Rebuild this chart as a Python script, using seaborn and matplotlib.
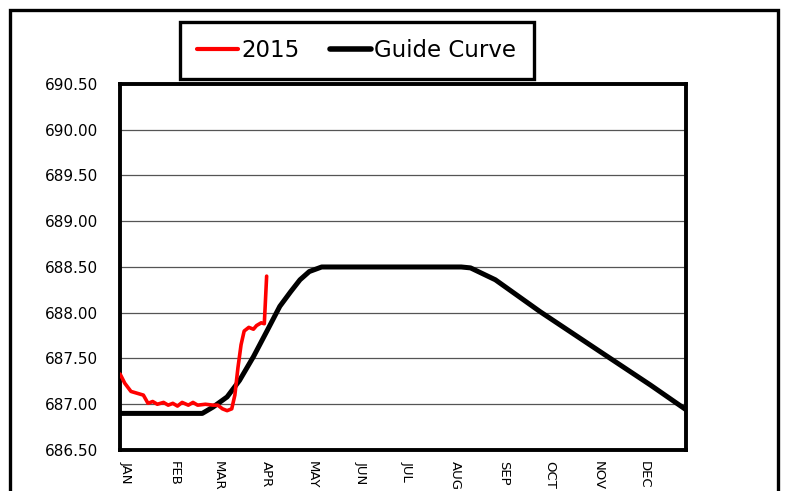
import matplotlib
matplotlib.use("Agg")
import matplotlib.pyplot as plt
import matplotlib.patches as patches
import seaborn as sns
import pandas as pd

# ---- data (x = day of year, y = elevation) ----
red_days = [0, 3, 7, 15, 18, 21, 24, 28, 31, 34, 37, 40, 44, 47, 50, 55,
            60, 63, 66, 69, 72, 74, 76, 78, 80, 83, 86, 88, 91, 93, 94.5]
red_levels = [687.33, 687.23, 687.14, 687.10, 687.01, 687.03, 687.00, 687.02,
              686.99, 687.01, 686.98, 687.02, 686.99, 687.02, 686.99, 687.00,
              686.99, 686.99, 686.95, 686.93, 686.95, 687.10, 687.40, 687.65,
              687.80, 687.84, 687.82, 687.86, 687.89, 687.88, 688.40]

guide_days = [0, 53, 60, 69, 77, 86, 95, 103, 110, 116, 122, 130,
              220, 226, 242, 271, 310, 342, 365]
guide_levels = [686.90, 686.90, 686.97, 687.08, 687.26, 687.52, 687.81, 688.07,
                688.23, 688.36, 688.45, 688.50, 688.50, 688.49, 688.36, 688.01,
                687.57, 687.21, 686.94]

month_labels = ["JAN", "FEB", "MAR", "APR", "MAY", "JUN",
                "JUL", "AUG", "SEP", "OCT", "NOV", "DEC"]
month_starts = [0, 31, 59, 90, 120, 151, 181, 212, 243, 273, 304, 334, 365]
y_ticks = [686.5, 687.0, 687.5, 688.0, 688.5, 689.0, 689.5, 690.0, 690.5]

red_df = pd.DataFrame({"day": red_days, "level": red_levels})
guide_df = pd.DataFrame({"day": guide_days, "level": guide_levels})

sns.set_style("white")
plt.rcParams["font.family"] = ["DejaVu Sans"]
plt.rcParams["text.color"] = "black"
plt.rcParams["xtick.color"] = "black"
plt.rcParams["ytick.color"] = "black"

fig = plt.figure(figsize=(7.85, 4.91), dpi=100)
ax = fig.add_axes([0.153, 0.0835, 0.721, 0.7455])

sns.lineplot(data=red_df, x="day", y="level", ax=ax, color="#ff0000",
             linewidth=2.6, label="2015", zorder=4)
sns.lineplot(data=guide_df, x="day", y="level", ax=ax, color="black",
             linewidth=3.6, label="Guide Curve", zorder=3)

ax.set_xlim(0, 365)
ax.set_ylim(686.5, 690.5)
ax.set_yticks(y_ticks)
ax.set_yticklabels([f"{v:.2f}" for v in y_ticks], fontsize=11, color="black")
ax.tick_params(axis="y", length=0, pad=16)
ax.yaxis.grid(True, color="#555555", linewidth=0.9)
ax.set_axisbelow(True)

ax.set_xticks(month_starts)
ax.set_xticklabels([])
ax.tick_params(axis="x", length=5, width=1, color="black", direction="out")
for d, lab in zip(month_starts[:-1], month_labels):
    ax.annotate(lab, xy=(d, 0), xycoords=("data", "axes fraction"),
                xytext=(0, -8), textcoords="offset points",
                rotation=-90, ha="left", va="top", fontsize=9.5, color="black")

ax.set_xlabel("")
ax.set_ylabel("")
for s in ax.spines.values():
    s.set_visible(True)
    s.set_color("black")
    s.set_linewidth(2.8)

ax.get_legend().remove()
handles, labels = ax.get_legend_handles_labels()
leg = fig.legend(handles, labels, loc="upper left", bbox_to_anchor=(0.229, 0.956),
                 ncol=2, fontsize=16.5, frameon=True, fancybox=False, framealpha=1,
                 handlelength=1.8, handletextpad=0.15, columnspacing=1.3,
                 borderpad=0.75, borderaxespad=0, labelcolor="black")
leg.get_frame().set_edgecolor("black")
leg.get_frame().set_linewidth(2.4)
leg.legend_handles[0].set_linewidth(3.0)
leg.legend_handles[1].set_linewidth(4.0)

# outer chart frame (bottom edge is cut off in the reference)
fig.patches.append(patches.Rectangle((0.013, -0.2), 0.978, 1.18, transform=fig.transFigure,
                                     fill=False, edgecolor="black", linewidth=2.4))

fig.savefig("out.png", dpi=100)
